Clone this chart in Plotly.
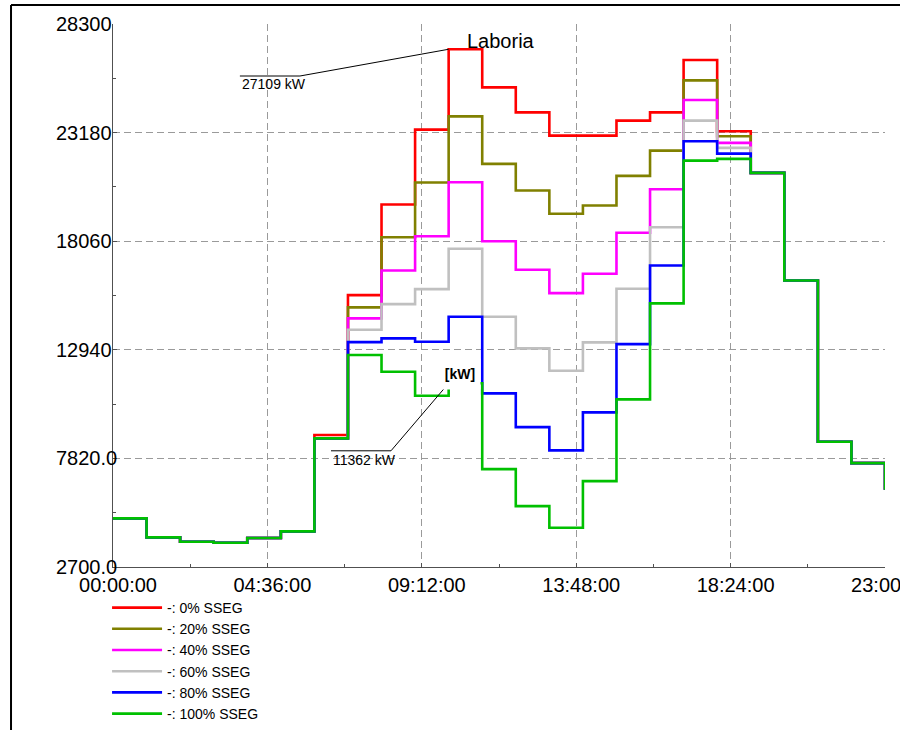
import plotly.graph_objects as go

# ---------------- data ----------------
hours = list(range(24))

sseg_0 = [4991, 4096, 3893, 3846, 4067, 4379, 8924, 15519, 19789, 23321, 27109, 25311,
          24132, 23039, 23039, 23745, 24132, 26603, 23241, 21282, 16209, 8602, 7598, 6339]
sseg_20 = [4991, 4096, 3893, 3846, 4067, 4379, 8764, 14939, 18248, 20825, 23943, 21706,
           20448, 19351, 19742, 21141, 22332, 25641, 23006, 21282, 16209, 8602, 7598, 6339]
sseg_40 = [4991, 4096, 3893, 3846, 4067, 4379, 8764, 14420, 16680, 18295, 20839, 18060,
           16713, 15611, 16525, 18456, 20509, 24717, 22695, 21282, 16209, 8602, 7598, 6339]
sseg_60 = [4991, 4096, 3893, 3846, 4067, 4379, 8764, 13883, 15095, 15802, 17702, 14496,
           13006, 11950, 13289, 15818, 18719, 23745, 22459, 21282, 16209, 8602, 7598, 6339]
sseg_80 = [4991, 4096, 3893, 3846, 4067, 4379, 8764, 13303, 13477, 13317, 14496, 10884,
           9295, 8197, 9988, 13209, 16915, 22770, 22191, 21282, 16209, 8602, 7598, 6339]
sseg_100 = [4991, 4096, 3893, 3846, 4067, 4379, 8764, 12696, 11908, 10777, 11362, 7315,
            5570, 4547, 6749, 10601, 15128, 21861, 21940, 21282, 16209, 8602, 7598, 6339]

series_names = ["-: 0% SSEG", "-: 20% SSEG", "-: 40% SSEG",
                "-: 60% SSEG", "-: 80% SSEG", "-: 100% SSEG"]
series_values = [sseg_0, sseg_20, sseg_40, sseg_60, sseg_80, sseg_100]
series_colors = ["#FF0000", "#808000", "#FF00FF", "#C0C0C0", "#0000FF", "#00C000"]

x_tickvals = [0, 4.6, 9.2, 13.8, 18.4, 23]
x_ticktext = ["00:00:00", "04:36:00", "09:12:00", "13:48:00", "18:24:00", "23:00:00"]
y_tickvals = [2700, 7820, 12940, 18060, 23180, 28300]
y_ticktext = ["2700.0", "7820.0", "12940", "18060", "23180", "28300"]

# callouts: (hour, value, label)
callout_max = (10, 27109, "27109 kW")
callout_min = (10, 11362, "11362 kW")
title_text = "Laboria"
unit_text = "<b>[kW]</b>"

FONT = "Liberation Sans, Arial, sans-serif"

fig = go.Figure()
for name, vals, col in zip(series_names, series_values, series_colors):
    fig.add_trace(go.Scatter(
        x=hours, y=vals, name=name, mode="lines",
        line=dict(color=col, width=2.6, shape="hv"),
    ))

axis_common = dict(
    automargin=False,
    showgrid=True, gridcolor="#9a9a9a", gridwidth=1, griddash="7px,4px",
    zeroline=False, showline=True, linecolor="#505050", linewidth=1,
    ticks="inside", ticklen=4, tickcolor="#505050",
    tickfont=dict(family=FONT, size=20, color="black"),
    ticklabeloverflow="allow",
    minor=dict(ticks="inside", ticklen=3, tickcolor="#505050", showgrid=False),
)

fig.update_xaxes(range=[0, 23], tickmode="array", tickvals=x_tickvals,
                 ticktext=x_ticktext, ticklabelshift=5,
                 **axis_common)
fig.update_xaxes(minor=dict(tickvals=[2.3, 6.9, 11.5, 16.1, 20.7]))
fig.update_yaxes(range=[2700, 28300], tickmode="array", tickvals=y_tickvals,
                 ticktext=y_ticktext, ticklabelposition="inside",
                 ticklabelstandoff=-60,
                 **axis_common)
fig.update_yaxes(minor=dict(tickvals=[5260, 10380, 15500, 20620, 25740]))

# callout for maximum
hx, hv_, lab = callout_max
fig.add_shape(type="path", xref="x", yref="y",
              path=f"M {hx - 6.22},{hv_ - 1261} L {hx - 4.43},{hv_ - 1261} L {hx},{hv_}",
              line=dict(color="black", width=1))
fig.add_annotation(x=hx - 6.22, y=hv_ - 1261, text=lab, showarrow=False,
                   xanchor="left", yanchor="top", yshift=2,
                   font=dict(family=FONT, size=14, color="black"))

# callout for the 100% value
hx, hv_, lab = callout_min
fig.add_shape(type="path", xref="x", yref="y",
              path=f"M {hx - 3.505},{hv_ - 3184} L {hx - 1.718},{hv_ - 3184} L {hx},{hv_}",
              line=dict(color="black", width=1))
fig.add_annotation(x=hx - 3.505, y=hv_ - 3184, text=lab, showarrow=False,
                   xanchor="left", yanchor="top", yshift=1,
                   font=dict(family=FONT, size=14, color="black"))

# unit label with white box
fig.add_annotation(x=10.34, y=11800, xref="x", yref="y", text=unit_text,
                   showarrow=False, bgcolor="white", width=38, height=28,
                   font=dict(family=FONT, size=14, color="black"))

# title label
fig.add_annotation(x=11.56, y=27513, xref="x", yref="y", text=title_text,
                   showarrow=False,
                   font=dict(family=FONT, size=20, color="black"))

# outer frame (top and left edges)
fig.add_shape(type="line", xref="paper", yref="paper", x0=-0.1321, x1=1.1,
              y0=1.035, y1=1.035, line=dict(color="black", width=2))
fig.add_shape(type="line", xref="paper", yref="paper", x0=-0.1321, x1=-0.1321,
              y0=1.035, y1=-0.4, line=dict(color="black", width=2))

fig.update_layout(
    width=900, height=730,
    margin=dict(l=113, r=15, t=24, b=163, autoexpand=False),
    paper_bgcolor="white", plot_bgcolor="white",
    font=dict(family=FONT, color="black"),
    showlegend=True,
    legend=dict(x=-0.0077, y=-0.046, xanchor="left", yanchor="top",
                orientation="v", font=dict(family=FONT, size=14, color="black"),
                itemwidth=50, bgcolor="rgba(0,0,0,0)",
                traceorder="normal"),
)

fig.write_html("out.html", config={"displayModeBar": False},
               post_script="document.body.style.margin='0';document.body.style.overflow='hidden';")
